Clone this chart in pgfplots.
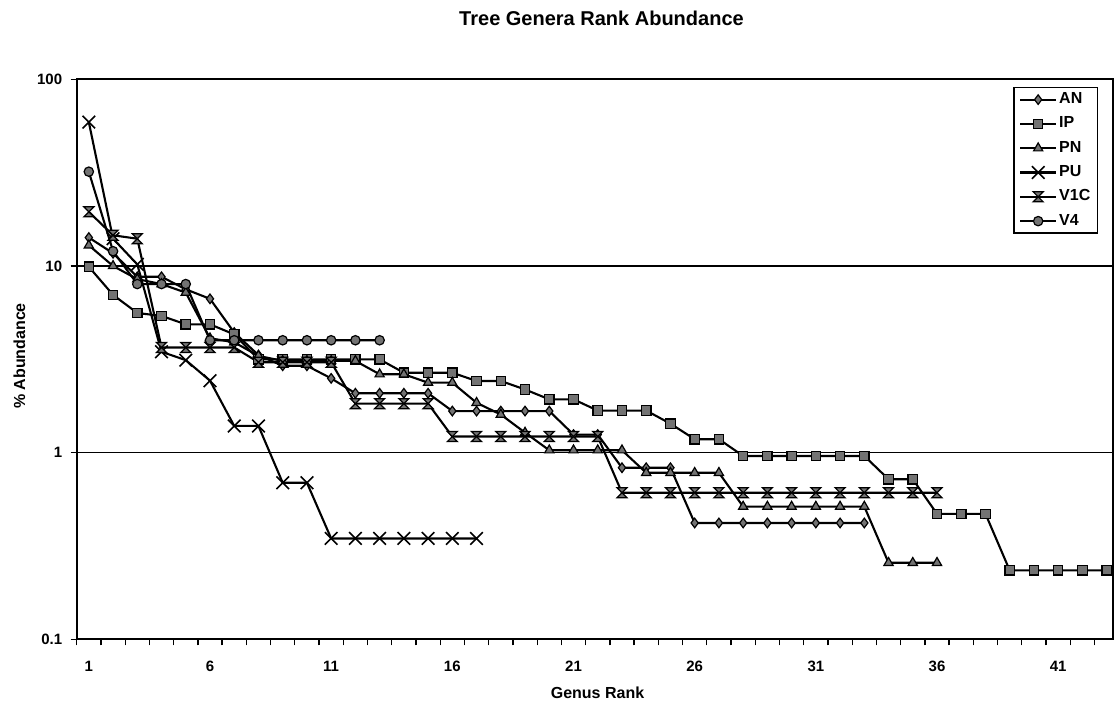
\documentclass[border=0pt]{standalone}
\usepackage{fontspec}
\setmainfont{Liberation Sans}
\usepackage{pgfplots}
\pgfplotsset{compat=1.18}

% Excel-style "star" marker drawn as a filled hourglass
\pgfdeclareplotmark{hourglass}{%
  \pgfpathmoveto{\pgfqpoint{-\pgfplotmarksize}{\pgfplotmarksize}}%
  \pgfpathlineto{\pgfqpoint{\pgfplotmarksize}{\pgfplotmarksize}}%
  \pgfpathlineto{\pgfqpoint{-\pgfplotmarksize}{-\pgfplotmarksize}}%
  \pgfpathlineto{\pgfqpoint{\pgfplotmarksize}{-\pgfplotmarksize}}%
  \pgfpathclose
  \pgfusepathqfillstroke
}
% diagonal cross marker
\pgfdeclareplotmark{bigx}{%
  \pgfpathmoveto{\pgfqpoint{-\pgfplotmarksize}{-\pgfplotmarksize}}%
  \pgfpathlineto{\pgfqpoint{\pgfplotmarksize}{\pgfplotmarksize}}%
  \pgfpathmoveto{\pgfqpoint{-\pgfplotmarksize}{\pgfplotmarksize}}%
  \pgfpathlineto{\pgfqpoint{\pgfplotmarksize}{-\pgfplotmarksize}}%
  \pgfusepathqstroke
}

\definecolor{markgray}{RGB}{115,115,115}

\begin{document}
\begin{tikzpicture}[x=1pt,y=1pt]
\useasboundingbox (0,0) rectangle (1115,705);

\node[anchor=base] at (601.5,679) {\fontsize{20}{24}\selectfont\bfseries Tree Genera Rank Abundance};
\node[anchor=base] at (597.5,7) {\fontsize{16}{19}\selectfont\bfseries Genus Rank};
\node[anchor=base,rotate=90] at (25,349) {\fontsize{16}{19}\selectfont\bfseries \% Abundance};

\begin{axis}[
  at={(76.7pt,65.7pt)}, anchor=south west,
  width=1036pt, height=560pt, scale only axis,
  xmin=0.5, xmax=43.25,
  ymode=log, ymin=0.1, ymax=100,
  axis line style={line width=1.9pt},
  tick align=outside,
  xtick pos=bottom, ytick pos=left,
  major tick length=6pt,
  tick style={black, line width=1.3pt},
  xtick={0.5,1.5,...,42.5},
  xticklabels={},
  extra x ticks={1,6,11,16,21,26,31,36,41},
  extra x tick labels={1,6,11,16,21,26,31,36,41},
  extra x tick style={tick style={draw=none}},
  ytick={0.1,1,10,100},
  yticklabels={0.1,1,10,100},
  yminorticks=false,
  ymajorgrids=true,
  major grid style={black, line width=1.3pt},
  ticklabel style={font=\fontsize{15}{18}\selectfont\bfseries},
  xticklabel style={yshift=-12pt},
  yticklabel style={xshift=-5pt},
  legend style={at={(0.9858,0.9863)}, anchor=north east,
    draw=black, line width=1.3pt,
    font=\fontsize{16}{19}\selectfont\bfseries,
    inner xsep=5pt, inner ysep=4pt, row sep=8.3pt,
    nodes={inner xsep=2pt, inner ysep=0pt, text height=12pt, text depth=4pt}},
  legend cell align=left,
  legend image code/.code={%
    \draw[mark repeat=2,mark phase=2] plot coordinates {(0pt,0pt) (18pt,0pt) (36pt,0pt)};},
  every axis plot/.append style={black},
]

% AN
\addplot[line width=2.1pt, mark=diamond*, mark size=4.8pt, mark options={solid, fill=markgray, line width=1.2pt}] coordinates {
(1,14.2) (2,11.7) (3,8.75) (4,8.75) (5,7.5) (6,6.67) (7,4.4) (8,3.33) (9,2.92) (10,2.92)
(11,2.5) (12,2.08) (13,2.08) (14,2.08) (15,2.08) (16,1.67) (17,1.67) (18,1.67) (19,1.67) (20,1.67)
(21,1.25) (22,1.25) (23,0.83) (24,0.83) (25,0.83) (26,0.42) (27,0.42) (28,0.42) (29,0.42) (30,0.42)
(31,0.42) (32,0.42) (33,0.42)};
\addlegendentry{AN}

% IP
\addplot[line width=2.1pt, mark=square*, mark size=4.7pt, mark options={solid, fill=markgray, line width=1.2pt}] coordinates {
(1,9.9) (2,7.0) (3,5.6) (4,5.4) (5,4.87) (6,4.87) (7,4.3) (8,3.16) (9,3.16) (10,3.16)
(11,3.16) (12,3.16) (13,3.16) (14,2.68) (15,2.68) (16,2.68) (17,2.42) (18,2.42) (19,2.18) (20,1.93)
(21,1.93) (22,1.68) (23,1.68) (24,1.68) (25,1.43) (26,1.18) (27,1.18) (28,0.96) (29,0.96) (30,0.96)
(31,0.96) (32,0.96) (33,0.96) (34,0.72) (35,0.72) (36,0.47) (37,0.47) (38,0.47) (39,0.234) (40,0.234)
(41,0.234) (42,0.234) (43,0.234)};
\addlegendentry{IP}

% PN
\addplot[line width=2.1pt, mark=triangle*, mark size=5.3pt, mark options={solid, fill=markgray, line width=1.2pt}] coordinates {
(1,12.9) (2,10.0) (3,8.5) (4,8.0) (5,7.2) (6,4.1) (7,3.9) (8,3.3) (9,3.1) (10,3.1)
(11,3.1) (12,3.1) (13,2.63) (14,2.63) (15,2.37) (16,2.37) (17,1.85) (18,1.6) (19,1.28) (20,1.03)
(21,1.03) (22,1.03) (23,1.03) (24,0.78) (25,0.78) (26,0.78) (27,0.78) (28,0.514) (29,0.514) (30,0.514)
(31,0.514) (32,0.514) (33,0.514) (34,0.257) (35,0.257) (36,0.257)};
\addlegendentry{PN}

% PU
\addplot[line width=2.1pt, mark=bigx, mark size=6.3pt, mark options={solid, line width=1.6pt}] coordinates {
(1,59) (2,14) (3,10.2) (4,3.47) (5,3.13) (6,2.43) (7,1.39) (8,1.39) (9,0.69) (10,0.69)
(11,0.347) (12,0.347) (13,0.347) (14,0.347) (15,0.347) (16,0.347) (17,0.347)};
\addlegendentry{PU}

% V1C
\addplot[line width=2.1pt, mark=hourglass, mark size=5pt, mark options={solid, fill=markgray, line width=1.2pt}] coordinates {
(1,19.5) (2,14.6) (3,14.0) (4,3.66) (5,3.66) (6,3.66) (7,3.66) (8,3.05) (9,3.05) (10,3.05)
(11,3.05) (12,1.83) (13,1.83) (14,1.83) (15,1.83) (16,1.22) (17,1.22) (18,1.22) (19,1.22) (20,1.22)
(21,1.22) (22,1.22) (23,0.61) (24,0.61) (25,0.61) (26,0.61) (27,0.61) (28,0.61) (29,0.61) (30,0.61)
(31,0.61) (32,0.61) (33,0.61) (34,0.61) (35,0.61) (36,0.61)};
\addlegendentry{V1C}

% V4
\addplot[line width=2.1pt, mark=*, mark size=4.7pt, mark options={solid, fill=markgray, line width=1.2pt}] coordinates {
(1,32) (2,12) (3,8) (4,8) (5,8) (6,4) (7,4) (8,4) (9,4) (10,4)
(11,4) (12,4) (13,4)};
\addlegendentry{V4}

\end{axis}
\end{tikzpicture}
\end{document}
